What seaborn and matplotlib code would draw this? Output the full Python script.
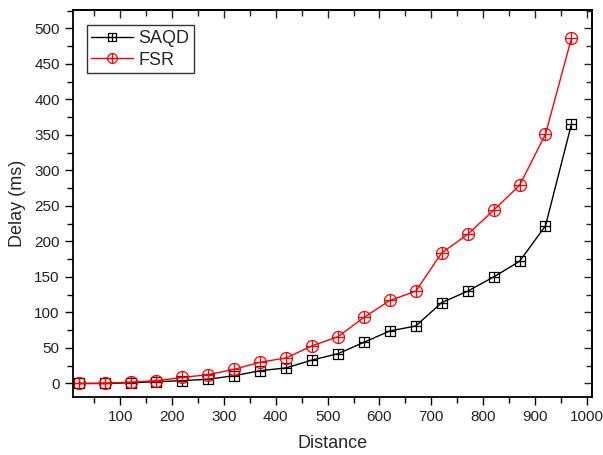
import numpy as np
import pandas as pd
import matplotlib
matplotlib.use("Agg")
import matplotlib.pyplot as plt
import seaborn as sns
from matplotlib.path import Path
from matplotlib.ticker import MultipleLocator

distance = [20, 70, 120, 170, 220, 270, 320, 370, 420, 470,
            520, 570, 620, 670, 720, 770, 820, 870, 920, 970]
saqd = [0, 0, 1, 2.5, 4, 6, 11, 18, 22, 33,
        42, 58, 74, 81, 114, 130, 150, 172, 222, 365]
fsr = [0, 0.5, 2, 4, 8.5, 12.5, 20, 30, 36, 53,
       66, 93, 117, 130, 184, 210, 244, 279, 351, 486]

sns.set_style("white")
plt.rcParams['font.family'] = ['Liberation Sans', 'DejaVu Sans']

# custom markers: square with plus, circle with plus
sq_verts = [(-1, -1), (1, -1), (1, 1), (-1, 1), (-1, -1),
            (0, -1), (0, 1), (-1, 0), (1, 0)]
sq_codes = [Path.MOVETO, Path.LINETO, Path.LINETO, Path.LINETO, Path.LINETO,
            Path.MOVETO, Path.LINETO, Path.MOVETO, Path.LINETO]
square_plus = Path(sq_verts, sq_codes)

theta = np.linspace(0, 2 * np.pi, 49)
c_verts = [(np.cos(t), np.sin(t)) for t in theta]
c_codes = [Path.MOVETO] + [Path.LINETO] * (len(theta) - 1)
c_verts += [(0, -1), (0, 1), (-1, 0), (1, 0)]
c_codes += [Path.MOVETO, Path.LINETO, Path.MOVETO, Path.LINETO]
circle_plus = Path(c_verts, c_codes)

fig = plt.figure(figsize=(6.03, 4.55), dpi=100)
ax = fig.add_axes([0.121, 0.1275, 0.861, 0.8505])

df = pd.DataFrame({"Distance": distance, "SAQD": saqd, "FSR": fsr})

sns.lineplot(data=df, x="Distance", y="SAQD", ax=ax, color="black", lw=1,
             marker=square_plus, markersize=7.8, markerfacecolor="none",
             markeredgecolor="black", markeredgewidth=0.9, label="SAQD")
sns.lineplot(data=df, x="Distance", y="FSR", ax=ax, color="red", lw=1,
             marker=circle_plus, markersize=8.6, markerfacecolor="none",
             markeredgecolor="red", markeredgewidth=0.9, label="FSR")

ax.set_xlim(9, 1010)
ax.set_ylim(-19, 526)
ax.xaxis.set_major_locator(MultipleLocator(100))
ax.xaxis.set_minor_locator(MultipleLocator(50))
ax.yaxis.set_major_locator(MultipleLocator(50))
ax.yaxis.set_minor_locator(MultipleLocator(25))
ax.set_xticks([t for t in range(100, 1001, 100)])

for s in ax.spines.values():
    s.set_color("black")
    s.set_linewidth(1.3)

ax.tick_params(axis='both', which='major', direction='out', length=6, width=1,
               color='black', labelsize=11, labelcolor='#222222',
               bottom=True, left=True, top=False, right=False)
ax.tick_params(axis='both', which='minor', direction='out', length=4, width=1,
               color='black', bottom=True, left=True, top=False, right=False)

top = ax.secondary_xaxis('top')
top.xaxis.set_major_locator(MultipleLocator(100))
top.xaxis.set_minor_locator(MultipleLocator(50))
top.tick_params(which='major', direction='in', length=6, width=1, labeltop=False)
top.tick_params(which='minor', direction='in', length=4, width=1)
top.spines['top'].set_linewidth(1.3)
right = ax.secondary_yaxis('right')
right.yaxis.set_major_locator(MultipleLocator(50))
right.yaxis.set_minor_locator(MultipleLocator(25))
right.tick_params(which='major', direction='in', length=6, width=1, labelright=False)
right.tick_params(which='minor', direction='in', length=4, width=1)
right.spines['right'].set_linewidth(1.3)

ax.set_xlabel("Distance", fontsize=13, labelpad=8)
ax.set_ylabel("Delay (ms)", fontsize=13, labelpad=6)

leg = ax.legend(loc="upper left", bbox_to_anchor=(0.027, 0.96), frameon=True,
                fancybox=False, edgecolor="black", fontsize=13,
                handlelength=2.3, borderpad=0.25, labelspacing=0.25,
                handletextpad=0.3, borderaxespad=0)
leg.get_frame().set_linewidth(1)
for h, ms in zip(leg.legend_handles, [6.3, 7.0]):
    h.set_markersize(ms)

fig.savefig("out.png", dpi=100)
